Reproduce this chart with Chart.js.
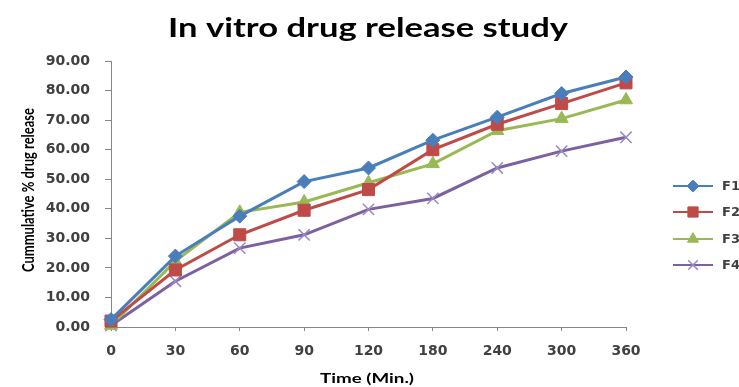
<!DOCTYPE html>
<html>
<head>
<meta charset="utf-8">
<title>In vitro drug release study</title>
<script src="https://cdn.jsdelivr.net/npm/chart.js@4/dist/chart.umd.min.js"></script>
<style>
  html, body { margin: 0; padding: 0; background: #ffffff; }
  #wrap { width: 739px; height: 387px; }
</style>
</head>
<body>
<div id="wrap"><canvas id="chart" width="739" height="387"></canvas></div>
<script>
// Sampling times (minutes) and cumulative % drug release per formulation
const timeLabels = ['0', '30', '60', '90', '120', '180', '240', '300', '360'];
const f1 = [2.5, 24.0, 37.5, 49.2, 53.8, 63.2, 71.0, 79.0, 84.6];
const f2 = [2.0, 19.3, 31.2, 39.5, 46.5, 60.0, 68.6, 75.6, 82.6];
const f3 = [0.5, 22.3, 38.8, 42.3, 48.8, 55.2, 66.4, 70.5, 76.8];
const f4 = [0.5, 15.5, 26.7, 31.2, 39.8, 43.5, 53.8, 59.5, 64.2];
const seriesNames = ['F1', 'F2', 'F3', 'F4'];

const chartTitle = 'In vitro drug release study';
const xTitle = 'Time (Min.)';
const yTitle = 'Cummulative % drug release';

const axisGrey = '#868686';
const textGrey = '#404040';
const titleFont = 'Lato, "Open Sans", sans-serif';

function series(label, data, color, pointStyle, radius, pointColor, pointBorderWidth) {
  return {
    label, data,
    borderColor: color,
    backgroundColor: pointColor,
    borderWidth: 3,
    pointStyle,
    pointRadius: radius,
    pointHoverRadius: radius,
    pointBackgroundColor: pointColor,
    pointBorderColor: pointColor,
    pointBorderWidth,
    tension: 0,
    clip: false
  };
}

// Draws text stretched along its own direction to a set width
function drawStretched(ctx, text, font, cx, cy, width, angle) {
  ctx.save();
  ctx.font = font;
  const natural = ctx.measureText(text).width;
  ctx.translate(cx, cy);
  ctx.rotate(angle);
  ctx.scale(width / natural, 1);
  ctx.fillStyle = '#000000';
  ctx.textAlign = 'center';
  ctx.textBaseline = 'alphabetic';
  ctx.fillText(text, 0, 0);
  ctx.restore();
}

// Chart title and both axis titles
const titles = {
  id: 'titles',
  afterDraw(chart) {
    const ctx = chart.ctx;
    drawStretched(ctx, chartTitle, 'bold 26px ' + titleFont, 368, 37, 400, 0);
    drawStretched(ctx, xTitle, 'bold 13px ' + titleFont, 367, 383, 94, 0);
    drawStretched(ctx, yTitle, 'bold 17px ' + titleFont, 34, 190, 164, -Math.PI / 2);
  }
};

// Line-with-marker legend on the right side
const sideLegend = {
  id: 'sideLegend',
  afterDraw(chart) {
    const ctx = chart.ctx;
    const x0 = 673, x1 = 713, tx = 722;
    const ys = [186, 212, 239, 265];
    chart.data.datasets.forEach((ds, i) => {
      const y = ys[i];
      ctx.save();
      ctx.strokeStyle = ds.borderColor;
      ctx.lineWidth = 2;
      ctx.beginPath();
      ctx.moveTo(x0, y);
      ctx.lineTo(x1, y);
      ctx.stroke();
      ctx.fillStyle = ds.pointBackgroundColor;
      ctx.strokeStyle = ds.pointBorderColor;
      ctx.lineWidth = ds.pointBorderWidth;
      Chart.helpers.drawPoint(ctx, {
        pointStyle: ds.pointStyle,
        radius: ds.pointRadius * 0.85,
        rotation: 0,
        borderWidth: ds.pointBorderWidth
      }, (x0 + x1) / 2, y);
      ctx.fillStyle = textGrey;
      ctx.font = 'bold 13px "DejaVu Sans", sans-serif';
      ctx.textBaseline = 'middle';
      ctx.textAlign = 'left';
      ctx.fillText(ds.label, tx, y + 1);
      ctx.restore();
    });
  }
};

const whiteBg = {
  id: 'whiteBg',
  beforeDraw(chart) {
    const ctx = chart.ctx;
    ctx.save();
    ctx.fillStyle = '#ffffff';
    ctx.fillRect(0, 0, chart.width, chart.height);
    ctx.restore();
  }
};

new Chart(document.getElementById('chart'), {
  type: 'line',
  data: {
    labels: timeLabels,
    datasets: [
      series(seriesNames[0], f1, '#4a7ebb', 'rectRot', 7, '#4a7ebb', 1),
      series(seriesNames[1], f2, '#be4b48', 'rect', 8.5, '#be4b48', 1),
      series(seriesNames[2], f3, '#98b954', 'triangle', 7.5, '#98b954', 1),
      series(seriesNames[3], f4, '#7d60a0', 'crossRot', 8, '#9c88c0', 1.5)
    ]
  },
  options: {
    responsive: false,
    animation: false,
    layout: { padding: { left: 0, right: 113, top: 61, bottom: 0 } },
    plugins: {
      legend: { display: false },
      tooltip: { enabled: false },
      title: { display: false }
    },
    scales: {
      x: {
        offset: false,
        border: { display: true, color: axisGrey, width: 1 },
        grid: { display: true, drawOnChartArea: false, drawTicks: true, tickLength: 4, color: axisGrey },
        ticks: {
          color: textGrey,
          padding: 12,
          maxRotation: 0,
          autoSkip: false,
          font: { family: '"DejaVu Sans", sans-serif', size: 14, weight: 'bold' }
        },
        title: { display: false },
        afterFit(scale) { scale.height = 60; }
      },
      y: {
        min: 0,
        max: 90,
        border: { display: true, color: axisGrey, width: 1 },
        grid: { display: true, drawOnChartArea: false, drawTicks: true, tickLength: 6, color: axisGrey },
        ticks: {
          stepSize: 10,
          color: textGrey,
          padding: 15,
          font: { family: '"DejaVu Sans", sans-serif', size: 14, weight: 'bold' },
          callback: (v) => Number(v).toFixed(2)
        },
        title: { display: false },
        afterFit(scale) { scale.width = 111; }
      }
    }
  },
  plugins: [whiteBg, titles, sideLegend]
});
</script>
</body>
</html>
